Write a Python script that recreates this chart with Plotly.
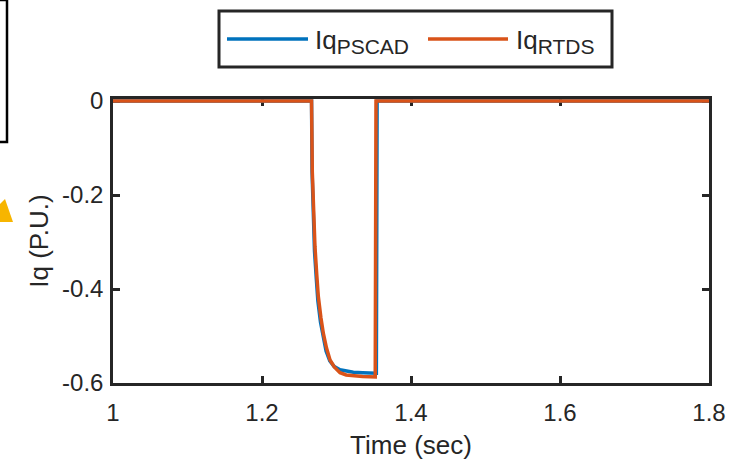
import plotly.graph_objects as go

# ---- data ----
t_pscad = [1.0, 1.2665, 1.2672, 1.2685, 1.2705, 1.273, 1.275, 1.2785, 1.282,
           1.286, 1.291, 1.297, 1.3047, 1.313, 1.3226, 1.335, 1.3535, 1.3545, 1.8]
iq_pscad = [0, 0, -0.15, -0.25, -0.32, -0.38, -0.425, -0.47, -0.503,
            -0.532, -0.553, -0.565, -0.572, -0.575, -0.577, -0.578, -0.579, 0, 0]

t_rtds = [1.0, 1.2665, 1.2675, 1.269, 1.2711, 1.2735, 1.2756, 1.279, 1.2823,
          1.2865, 1.2913, 1.297, 1.3047, 1.313, 1.3226, 1.335, 1.352, 1.353, 1.8]
iq_rtds = [0, 0, -0.15, -0.24, -0.31, -0.37, -0.416, -0.46, -0.494,
           -0.525, -0.551, -0.566, -0.578, -0.583, -0.585, -0.586, -0.587, 0, 0]

x_ticks = [1, 1.2, 1.4, 1.6, 1.8]
x_ticklabels = ["1", "1.2", "1.4", "1.6", "1.8"]
y_ticks = [0, -0.2, -0.4, -0.6]
y_ticklabels = ["0", "-0.2", "-0.4", "-0.6"]

series_names = ["PSCAD", "RTDS"]

BLUE = "#0072BD"
ORANGE = "#D95319"
AX = "#262626"
FONT = "Liberation Sans, Arial, sans-serif"

W, H = 738, 464
L, R, T, B = 113, 29, 99, 81
plot_h = H - T - B
plot_w = W - L - R
y_top = (101 - T) / 470.0  # small headroom so the y=0 line is not clipped

def label(name):
    return f"Iq<sub><span style='font-size:21px'>{name}</span></sub>"

fig = go.Figure()
fig.add_trace(go.Scatter(x=t_pscad, y=iq_pscad, mode="lines",
                         name=label(series_names[0]), showlegend=False,
                         line=dict(color=BLUE, width=3.5)))
fig.add_trace(go.Scatter(x=t_rtds, y=iq_rtds, mode="lines",
                         name=label(series_names[1]), showlegend=False,
                         line=dict(color=ORANGE, width=3.5)))

axis_common = dict(showline=True, linecolor=AX, linewidth=2.5, mirror="allticks",
                   ticks="inside", ticklen=7, tickwidth=2.5, tickcolor=AX,
                   showgrid=False, zeroline=False, layer="below traces",
                   automargin=False,
                   tickfont=dict(family=FONT, size=24, color=AX))

fig.update_xaxes(range=[1, 1.8], tickvals=x_ticks, ticktext=x_ticklabels,
                 ticklabelstandoff=6,
                 title=dict(text="Time (sec)", font=dict(family=FONT, size=26, color=AX),
                            standoff=12),
                 **axis_common)
fig.update_yaxes(range=[-0.6, y_top], tickvals=y_ticks, ticktext=y_ticklabels,
                 ticklabelstandoff=2,
                 title=dict(text="Iq (P.U.)", font=dict(family=FONT, size=26, color=AX),
                            standoff=6),
                 **axis_common)

def px(xp):
    return (xp - L) / plot_w

def py(yp):
    return (H - B - yp) / plot_h

# cropped remnants of a neighbouring figure at the left edge
fig.add_shape(type="path", xref="paper", yref="paper",
              path=f"M {px(-5)} {py(0)} L {px(7)} {py(0)} L {px(7)} {py(142)} L {px(-5)} {py(142)}",
              line=dict(color="#000000", width=2.5), fillcolor="rgba(0,0,0,0)")
fig.add_shape(type="path", xref="paper", yref="paper",
              path=f"M {px(0)} {py(204)} L {px(5)} {py(199)} L {px(13)} {py(222)} L {px(0)} {py(222)} Z",
              line=dict(color="#F7B500", width=0), fillcolor="#F7B500")

# legend box (drawn by hand so the sample lines can be long like the original)
fig.add_shape(type="rect", xref="paper", yref="paper",
              x0=px(219), x1=px(612), y0=py(67), y1=py(11),
              line=dict(color=AX, width=3), fillcolor="white", layer="above")
legend_items = [(227, 308, 313, BLUE), (428, 508, 514, ORANGE)]
for (lx0, lx1, tx, col), nm in zip(legend_items, series_names):
    fig.add_shape(type="line", xref="paper", yref="paper",
                  x0=px(lx0), x1=px(lx1), y0=py(39), y1=py(39),
                  line=dict(color=col, width=3.5), layer="above")
    fig.add_annotation(xref="paper", yref="paper", x=px(tx), y=py(42),
                       xanchor="left", yanchor="middle", showarrow=False,
                       text=label(nm), font=dict(family=FONT, size=26, color=AX))

fig.update_layout(
    width=W, height=H,
    margin=dict(l=L, r=R, t=T, b=B),
    paper_bgcolor="white", plot_bgcolor="white",
    font=dict(family=FONT, size=24, color=AX),
    showlegend=False,
)

fig.write_html("out.html", config={"displayModeBar": False},
               post_script="document.body.style.margin='0';document.body.style.overflow='hidden';")
